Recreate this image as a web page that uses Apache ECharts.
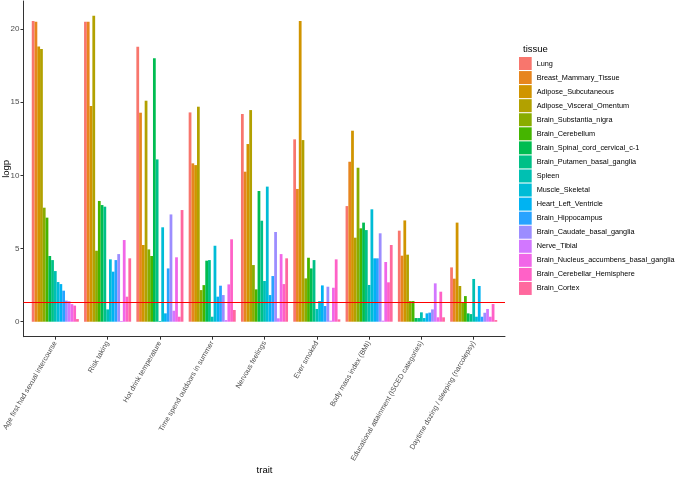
<!DOCTYPE html>
<html>
<head>
<meta charset="utf-8">
<script src="https://cdn.jsdelivr.net/npm/echarts@6/dist/echarts.min.js"></script>
<style>
  html, body { margin: 0; padding: 0; background: #fff; }
  #main { width: 677px; height: 477px; }
</style>
</head>
<body>
<div id="main"></div>
<script>
  'use strict';

  var traits = [
    'Age first had sexual intercourse', 'Risk taking', 'Hot drink temperature',
    'Time spend outdoors in summer', 'Nervous feelings', 'Ever smoked',
    'Body mass index (BMI)', 'Educational attainment (ISCED categories)',
    'Daytime dozing / sleeping (narcolepsy)'
  ];

  var tissues = [
    'Lung', 'Breast_Mammary_Tissue', 'Adipose_Subcutaneous', 'Adipose_Visceral_Omentum',
    'Brain_Substantia_nigra', 'Brain_Cerebellum', 'Brain_Spinal_cord_cervical_c-1',
    'Brain_Putamen_basal_ganglia', 'Spleen', 'Muscle_Skeletal', 'Heart_Left_Ventricle',
    'Brain_Hippocampus', 'Brain_Caudate_basal_ganglia', 'Nerve_Tibial',
    'Brain_Nucleus_accumbens_basal_ganglia', 'Brain_Cerebellar_Hemisphere', 'Brain_Cortex'
  ];

  // logp per trait, one value per tissue (same order as tissues)
  var ageFirstSex   = [20.55, 20.5, 18.8, 18.63, 7.79, 7.11, 4.49, 4.21, 3.46, 2.71, 2.57, 2.12, 1.44, 1.4, 1.2, 1.1, 0.18];
  var riskTaking    = [20.5, 20.5, 14.74, 20.91, 4.85, 8.25, 7.97, 7.86, 0.84, 4.26, 3.42, 4.21, 4.62, 0.05, 5.58, 1.71, 4.33];
  var hotDrink      = [18.79, 14.28, 5.24, 15.1, 4.94, 4.49, 18.0, 11.09, 0.05, 6.45, 0.57, 3.64, 7.33, 0.75, 4.4, 0.34, 7.63];
  var timeOutdoors  = [14.3, 10.82, 10.7, 14.69, 2.16, 2.5, 4.17, 4.21, 0.34, 5.19, 1.71, 2.46, 1.82, 0.11, 2.55, 5.63, 0.8];
  var nervous       = [14.19, 10.25, 12.14, 14.46, 3.87, 2.21, 8.93, 6.9, 2.78, 9.23, 1.82, 3.12, 6.13, 0.23, 4.62, 2.57, 4.33];
  var everSmoked    = [12.46, 9.07, 20.55, 12.41, 2.96, 4.37, 3.64, 4.21, 0.87, 1.41, 2.48, 1.07, 2.39, 0.07, 2.32, 4.26, 0.16];
  var bmi           = [7.9, 10.93, 13.05, 5.74, 10.52, 6.38, 6.77, 6.26, 2.51, 7.68, 4.33, 4.33, 6.04, 0.07, 4.08, 2.69, 5.24];
  var education     = [6.22, 4.51, 6.92, 4.58, 1.41, 1.41, 0.25, 0.25, 0.64, 0.25, 0.57, 0.62, 0.84, 2.62, 0.3, 2.05, 0.3];
  var dozing        = [3.71, 2.94, 6.77, 2.44, 1.3, 1.75, 0.57, 0.52, 2.92, 0.34, 2.44, 0.34, 0.61, 0.87, 0.34, 1.21, 0.11];

  var byTrait = [ageFirstSex, riskTaking, hotDrink, timeOutdoors, nervous, everSmoked, bmi, education, dozing];

  var yTicks = [0, 5, 10, 15, 20];
  var threshold = 1.3;

  /*---- ggplot style hue palette ----*/
  function hcl(h, c, l) {
    var Y = Math.pow((l + 16) / 116, 3);
    var un = 4 * 95.047 / (95.047 + 1500 + 3 * 108.883);
    var vn = 9 * 100 / (95.047 + 1500 + 3 * 108.883);
    var rad = h * Math.PI / 180;
    var u = c * Math.cos(rad) / (13 * l) + un;
    var v = c * Math.sin(rad) / (13 * l) + vn;
    var X = Y * 9 * u / (4 * v);
    var Z = Y * (12 - 3 * u - 20 * v) / (4 * v);
    var rgb = [
      3.2406 * X - 1.5372 * Y - 0.4986 * Z,
      -0.9689 * X + 1.8758 * Y + 0.0415 * Z,
      0.0557 * X - 0.2040 * Y + 1.0570 * Z
    ].map(function (x) {
      x = x <= 0.0031308 ? 12.92 * x : 1.055 * Math.pow(x, 1 / 2.4) - 0.055;
      x = Math.round(Math.max(0, Math.min(1, x)) * 255);
      return ('0' + x.toString(16)).slice(-2);
    });
    return '#' + rgb.join('');
  }
  function huePal(n) {
    var out = [];
    for (var i = 0; i < n; i++) out.push(hcl(15 + 360 * i / n, 100, 65));
    return out;
  }
  var colors = huePal(tissues.length);

  var font = '"Liberation Sans", Arial, sans-serif';
  var axisCol = '#333333';

  var series = tissues.map(function (t, j) {
    return {
      name: t,
      type: 'bar',
      xAxisIndex: 1,
      yAxisIndex: 1,
      barGap: '0%',
      barCategoryGap: '10%',
      itemStyle: { color: colors[j] },
      data: byTrait.map(function (arr) { return arr[j]; })
    };
  });

  // threshold line spans the full panel
  series.push({
    type: 'line',
    xAxisIndex: 0,
    yAxisIndex: 0,
    data: [],
    markLine: {
      silent: true,
      symbol: 'none',
      label: { show: false },
      lineStyle: { color: '#ff0000', width: 1, type: 'solid' },
      data: [{ yAxis: threshold }]
    }
  });

  var option = {
    animation: false,
    textStyle: { fontFamily: font },
    title: {
      text: 'tissue',
      left: 518,
      top: 39,
      textStyle: { fontSize: 9.5, fontWeight: 'normal', color: '#000', fontFamily: font }
    },
    legend: {
      orient: 'vertical',
      left: 519,
      top: 57,
      padding: 0,
      itemWidth: 12.7,
      itemHeight: 13,
      itemGap: 1.06,
      icon: 'rect',
      selectedMode: false,
      data: tissues,
      textStyle: { fontSize: 7.3, color: '#000', fontFamily: font }
    },
    grid: [
      { left: 23.5, top: 1, width: 481.5, height: 335.7, outerBoundsMode: 'none', containLabel: false },
      { left: 29.15, top: 1, width: 470.7, height: 335.7, outerBoundsMode: 'none', containLabel: false }
    ],
    xAxis: [
      {
        type: 'value',
        gridIndex: 0,
        min: 0,
        max: 1,
        axisLine: { show: true, onZero: false, lineStyle: { color: axisCol, width: 1 } },
        axisTick: { show: false },
        axisLabel: { show: false },
        splitLine: { show: false }
      },
      {
        type: 'category',
        gridIndex: 1,
        data: traits,
        axisLine: { show: false, onZero: false },
        axisTick: { show: true, alignWithLabel: true, length: 3, lineStyle: { color: axisCol } },
        axisLabel: { rotate: 60, interval: 0, fontSize: 7.2, color: '#4d4d4d', margin: 5 },
        name: 'trait',
        nameLocation: 'middle',
        nameGap: 129,
        nameMoveOverlap: false,
        nameTextStyle: { fontSize: 9.5, color: '#000' }
      }
    ],
    yAxis: [
      {
        type: 'value',
        gridIndex: 0,
        min: -1.025,
        max: 21.913,
        axisLine: { show: true, onZero: false, lineStyle: { color: axisCol, width: 1 } },
        axisTick: { show: true, length: 3, customValues: yTicks, lineStyle: { color: axisCol } },
        axisLabel: { customValues: yTicks, fontSize: 8, color: '#4d4d4d', margin: 4 },
        splitLine: { show: false },
        name: 'logp',
        nameLocation: 'middle',
        nameGap: 12,
        nameMoveOverlap: false,
        nameRotate: 90,
        nameTextStyle: { fontSize: 9.5, color: '#000' }
      },
      {
        type: 'value',
        gridIndex: 1,
        min: -1.025,
        max: 21.913,
        show: false
      }
    ],
    series: series
  };

  var chart = echarts.init(document.getElementById('main'));
  chart.setOption(option);
</script>
</body>
</html>
